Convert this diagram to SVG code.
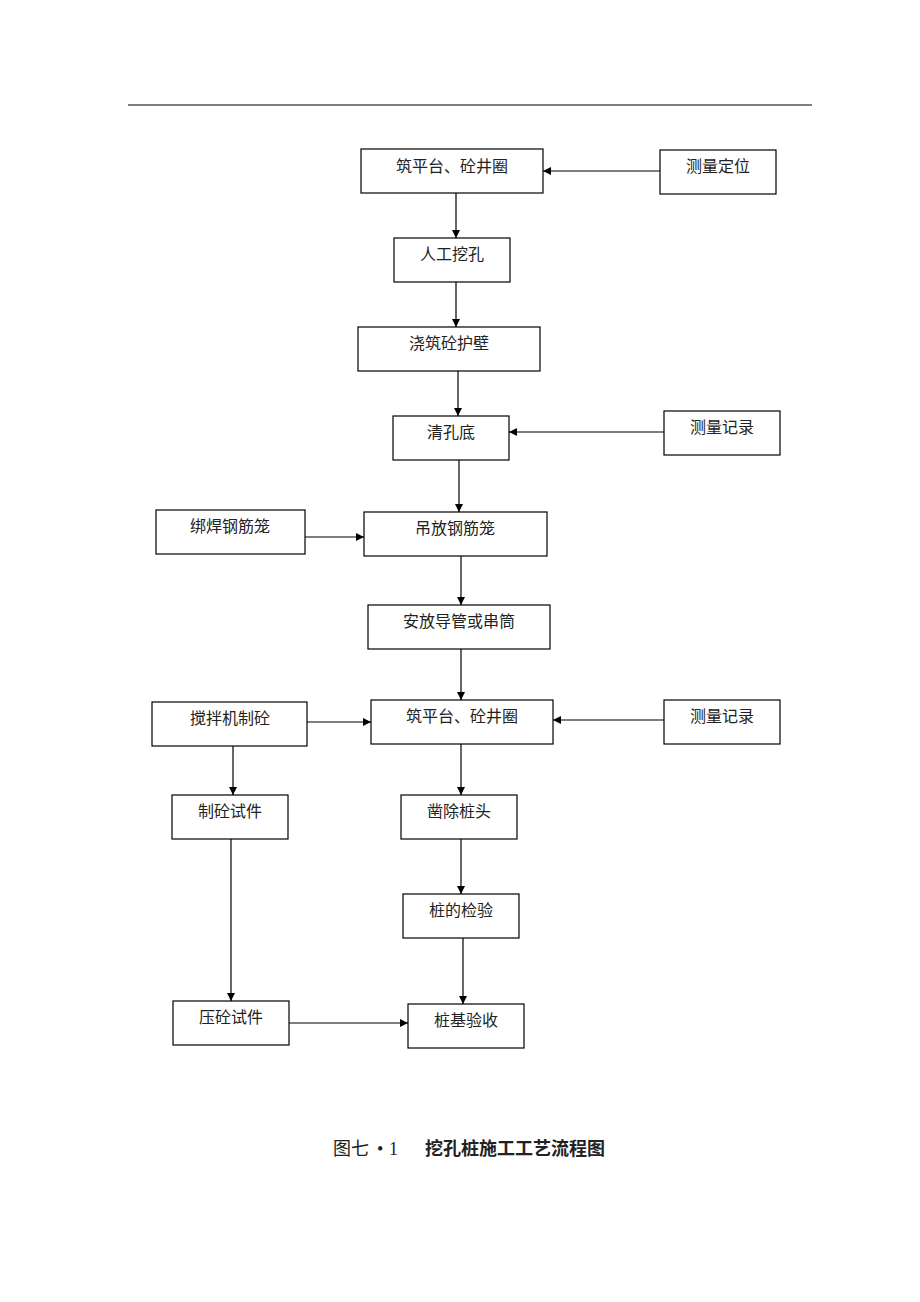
<svg xmlns="http://www.w3.org/2000/svg" width="920" height="1302" viewBox="0 0 920 1302">
<style>
.box{fill:#fff;stroke:#000;stroke-width:1.2}
.t{font-family:"Noto Sans CJK SC","Noto Sans",sans-serif;font-size:16px;fill:#222;text-anchor:middle}
.c{stroke:#000;stroke-width:1.2;fill:none;marker-end:url(#ah)}
.cap{font-family:"Liberation Serif","Noto Sans CJK SC",serif;font-size:18px;fill:#222}
</style>
<defs>
<marker id="ah" viewBox="0 0 10 10" refX="10" refY="5" markerWidth="8" markerHeight="8" markerUnits="userSpaceOnUse" orient="auto">
<path d="M0,0 L10,5 L0,10 Z" fill="#000"/>
</marker>
</defs>
<rect width="920" height="1302" fill="#fff"/>
<line x1="128" y1="105" x2="812" y2="105" stroke="#000" stroke-width="1.2"/>
<g id="connectors">
<line class="c" x1="660" y1="171" x2="543" y2="171"/>
<line class="c" x1="456" y1="193" x2="456" y2="238"/>
<line class="c" x1="456" y1="282" x2="456" y2="327"/>
<line class="c" x1="458" y1="371" x2="458" y2="416"/>
<line class="c" x1="664" y1="432" x2="509" y2="432"/>
<line class="c" x1="459" y1="460" x2="459" y2="512"/>
<line class="c" x1="305" y1="537" x2="364" y2="537"/>
<line class="c" x1="461" y1="556" x2="461" y2="605"/>
<line class="c" x1="461" y1="649" x2="461" y2="700"/>
<line class="c" x1="307" y1="722" x2="371" y2="722"/>
<line class="c" x1="664" y1="720" x2="553" y2="720"/>
<line class="c" x1="233" y1="746" x2="233" y2="795"/>
<line class="c" x1="461" y1="744" x2="461" y2="795"/>
<line class="c" x1="461" y1="839" x2="461" y2="894"/>
<line class="c" x1="231" y1="839" x2="231" y2="1001"/>
<line class="c" x1="463" y1="938" x2="463" y2="1004"/>
<line class="c" x1="289" y1="1023" x2="408" y2="1023"/>
</g>
<g id="n1"><rect class="box" x="361" y="149" width="182" height="44"/><text class="t" x="452" y="172">筑平台、砼井圈</text></g>
<g id="n2"><rect class="box" x="660" y="150" width="116" height="44"/><text class="t" x="718" y="172">测量定位</text></g>
<g id="n3"><rect class="box" x="394" y="238" width="116" height="44"/><text class="t" x="452" y="260">人工挖孔</text></g>
<g id="n4"><rect class="box" x="358" y="327" width="182" height="44"/><text class="t" x="449" y="349">浇筑砼护壁</text></g>
<g id="n5"><rect class="box" x="393" y="416" width="116" height="44"/><text class="t" x="451" y="438">清孔底</text></g>
<g id="n6"><rect class="box" x="664" y="411" width="116" height="44"/><text class="t" x="722" y="433">测量记录</text></g>
<g id="n7"><rect class="box" x="364" y="512" width="183" height="44"/><text class="t" x="455" y="534">吊放钢筋笼</text></g>
<g id="n8"><rect class="box" x="156" y="510" width="149" height="44"/><text class="t" x="230" y="532">绑焊钢筋笼</text></g>
<g id="n9"><rect class="box" x="368" y="605" width="182" height="44"/><text class="t" x="459" y="627">安放导管或串筒</text></g>
<g id="n10"><rect class="box" x="371" y="700" width="182" height="44"/><text class="t" x="462" y="722">筑平台、砼井圈</text></g>
<g id="n11"><rect class="box" x="152" y="702" width="155" height="44"/><text class="t" x="230" y="724">搅拌机制砼</text></g>
<g id="n12"><rect class="box" x="664" y="700" width="116" height="44"/><text class="t" x="722" y="722">测量记录</text></g>
<g id="n13"><rect class="box" x="172" y="795" width="116" height="44"/><text class="t" x="230" y="817">制砼试件</text></g>
<g id="n14"><rect class="box" x="401" y="795" width="116" height="44"/><text class="t" x="459" y="817">凿除桩头</text></g>
<g id="n15"><rect class="box" x="403" y="894" width="116" height="44"/><text class="t" x="461" y="916">桩的检验</text></g>
<g id="n16"><rect class="box" x="173" y="1001" width="116" height="44"/><text class="t" x="231" y="1023">压砼试件</text></g>
<g id="n17"><rect class="box" x="408" y="1004" width="116" height="44"/><text class="t" x="466" y="1026">桩基验收</text></g>
<g id="caption">
<text class="cap" x="333" y="1155">图七<tspan x="377">•</tspan><tspan x="389">1</tspan></text>
<text class="cap" x="425" y="1155" style="font-family:'Noto Sans CJK SC',sans-serif;font-weight:700">挖孔桩施工工艺流程图</text>
</g>
</svg>
